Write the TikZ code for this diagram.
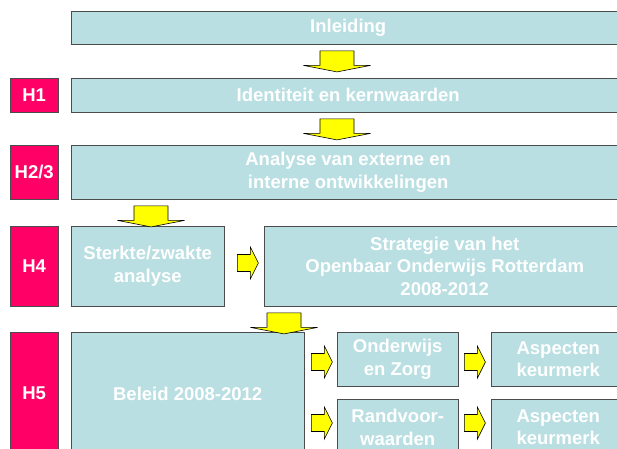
\documentclass[tikz,border=0pt]{standalone}
\usepackage{fontspec}
\setmainfont{Liberation Sans}
\usetikzlibrary{positioning, calc}
\definecolor{vakblauw}{RGB}{185,223,226}
\definecolor{hoofdrood}{RGB}{255,0,102}
\definecolor{pijlgeel}{RGB}{255,255,0}

\newcommand{\pijlomlaag}[2]{\draw[pijl] ($(#1 -| #2,0)+(0,6.5)$) ++(-17,0) -- ++(34,0) -- ++(0,14.5) -- ++(16.5,0) -- ++(-33.5,6.5) -- ++(-33.5,-6.5) -- ++(16.5,0) -- cycle;}
\newcommand{\pijlrechts}[3]{\draw[pijl] ($(#1 |- 0,#2)+(#3,0)$) ++(0,-8.5) -- ++(13,0) -- ++(0,-7.5) -- ++(8,16) -- ++(-8,16) -- ++(0,-7.5) -- ++(-13,0) -- cycle;}

\begin{document}
\begin{tikzpicture}[x=1pt, y=-1pt,
    vak/.style={rectangle, draw=black!70, fill=vakblauw, anchor=north west, align=center, text=white, font=\fontsize{18.5}{22.5}\selectfont\bfseries, inner sep=0pt},
    hfd/.style={vak, fill=hoofdrood, minimum width=48pt},
    pijl/.style={draw=black, fill=pijlgeel, line width=0.6pt}
]
\useasboundingbox (0,0) rectangle (617,448);
\clip (0,0) rectangle (617,448);
\node[vak, minimum width=554pt, minimum height=33pt] (inl) at (71,11) {Inleiding};
\node[hfd, minimum height=34pt] (h1) at (10,78) {H1};
\node[vak, minimum width=554pt, minimum height=34pt] (ident) at (71,78) {Identiteit en kernwaarden};
\node[hfd, minimum height=54pt] (h23) at (10,145) {H2/3};
\node[vak, minimum width=554pt, minimum height=54pt] (analyse) at (71,145) {Analyse van externe en\\ interne ontwikkelingen};
\node[hfd, minimum height=80pt] (h4) at (10,226) {H4};
\node[vak, minimum width=153pt, minimum height=80pt] (sterkte) at (71,226) {Sterkte/zwakte\\ analyse};
\node[vak, minimum width=361pt, minimum height=80pt] (strategie) at (264,226) {Strategie van het\\ Openbaar Onderwijs Rotterdam\\ 2008-2012};
\node[hfd, minimum height=123pt] (h5) at (10,332) {H5};
\node[vak, minimum width=233pt, minimum height=123pt] (beleid) at (71,332) {Beleid 2008-2012};
\node[vak, minimum width=121pt, minimum height=54pt] (onderwijs) at (337,332) {Onderwijs\\ en Zorg};
\node[vak, minimum width=134pt, minimum height=54pt] (aspecten1) at (491,332) {Aspecten\\ keurmerk};
\node[vak, minimum width=121pt, minimum height=56pt] (randvoor) at (337,399) {Randvoor-\\ waarden};
\node[vak, minimum width=134pt, minimum height=56pt] (aspecten2) at (491,399) {Aspecten\\ keurmerk};
% blokpijlen
\pijlomlaag{inl.south}{337}
\pijlomlaag{ident.south}{337}
\pijlomlaag{analyse.south}{151}
\pijlomlaag{strategie.south}{284}
\pijlrechts{sterkte.east}{263}{13}
\pijlrechts{beleid.east}{362}{7}
\pijlrechts{beleid.east}{423}{7}
\pijlrechts{onderwijs.east}{362}{6}
\pijlrechts{randvoor.east}{423}{6}
\end{tikzpicture}
\end{document}
